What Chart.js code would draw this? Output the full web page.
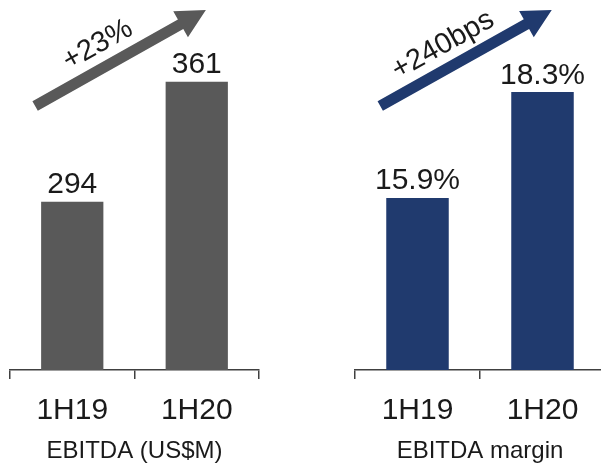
<!DOCTYPE html>
<html>
<head>
<meta charset="utf-8">
<script src="https://cdn.jsdelivr.net/npm/chart.js@4.4.1/dist/chart.umd.min.js"></script>
<style>
  html, body { margin: 0; padding: 0; background: #fff; width: 601px; height: 468px; overflow: hidden; position: relative; }
  .box { position: absolute; top: 0; height: 468px; }
</style>
</head>
<body>
<div class="box" style="left:0px;width:270px;"><canvas id="c1" width="270" height="468"></canvas></div>
<div class="box" style="left:300px;width:310px;"><canvas id="c2" width="310" height="468"></canvas></div>
<script>
// ---- data ----
const categories = ['1H19', '1H20'];
const ebitdaValues = [294, 361];          // US$M
const marginValues = [15.9, 18.3];        // %
const axisTitles = ['EBITDA (US$M)', 'EBITDA margin'];
const growthLabels = ['+23%', '+240bps'];
const ebitdaRange = [200, 400];
const marginRange = [12, 20];

const FONT = "'Liberation Sans', Arial, sans-serif";
const TEXT = '#1a1a1a';
const GRAY = '#595959';
const NAVY = '#203a6e';

const overlayPlugin = {
  id: 'overlay',
  afterDatasetsDraw(chart, args, opts) {
    const ctx = chart.ctx;
    const meta = chart.getDatasetMeta(0);
    const bars = meta.data;
    const vals = chart.data.datasets[0].data;
    // value labels
    ctx.save();
    ctx.fillStyle = TEXT;
    ctx.font = '30px ' + FONT;
    ctx.textAlign = 'center';
    ctx.textBaseline = 'alphabetic';
    bars.forEach((b, i) => {
      ctx.fillText(opts.fmt(vals[i]), b.x, b.y - 8.5);
    });
    ctx.restore();
    // growth arrow
    const b0 = bars[0], b1 = bars[1];
    const tx = b0.x - b0.width / 2 - 6, ty = 106;
    const hx = b1.x + b1.width / 2 - 22, hy = 10;
    const dx = hx - tx, dy = hy - ty;
    const len = Math.hypot(dx, dy);
    const ux = dx / len, uy = dy / len;
    const nx = -uy, ny = ux; // normal
    const sw = 5.5, hw = 15, hl = 29;
    const bx = hx - ux * hl, by = hy - uy * hl;
    ctx.save();
    ctx.fillStyle = opts.color;
    ctx.beginPath();
    ctx.moveTo(tx + nx * sw, ty + ny * sw);
    ctx.lineTo(bx + nx * sw, by + ny * sw);
    ctx.lineTo(bx + nx * hw, by + ny * hw);
    ctx.lineTo(hx, hy);
    ctx.lineTo(bx - nx * hw, by - ny * hw);
    ctx.lineTo(bx - nx * sw, by - ny * sw);
    ctx.lineTo(tx - nx * sw, ty - ny * sw);
    ctx.closePath();
    ctx.fill();
    // growth text
    const along = 84.5, off = 14.5;
    const px = tx + ux * along - nx * off;
    const py = ty + uy * along - ny * off;
    ctx.translate(px, py);
    ctx.rotate(Math.atan2(dy, dx));
    ctx.fillStyle = TEXT;
    ctx.font = '29px ' + FONT;
    ctx.textAlign = 'center';
    ctx.textBaseline = 'alphabetic';
    ctx.fillText(opts.text, 0, 0);
    ctx.restore();
  }
};

function makeChart(id, values, range, color, title, growth, fmt, padL, padR, padT) {
  return new Chart(document.getElementById(id), {
    type: 'bar',
    data: {
      labels: categories,
      datasets: [{ data: values, backgroundColor: color, borderWidth: 0,
                   barPercentage: 0.5, categoryPercentage: 1.0 }]
    },
    options: {
      responsive: false,
      animation: false,
      events: [],
      layout: { padding: { left: padL, right: padR, top: padT, bottom: 2 } },
      plugins: {
        legend: { display: false },
        tooltip: { enabled: false },
        overlay: { color: color, text: growth, fmt: fmt }
      },
      scales: {
        x: {
          offset: true,
          afterFit: s => { s.height = 96; },
          grid: { display: true, offset: true, drawOnChartArea: false, drawTicks: true,
                  tickLength: 9, color: '#404040', lineWidth: 1.5 },
          border: { display: true, color: '#404040', width: 1.5 },
          ticks: { color: TEXT, font: { family: FONT, size: 30 }, padding: 14 },
          title: { display: true, text: title, color: TEXT,
                   font: { family: FONT, size: 24 }, padding: { top: 8, bottom: 0 } }
        },
        y: { display: false, min: range[0], max: range[1] }
      }
    },
    plugins: [overlayPlugin]
  });
}

makeChart('c1', ebitdaValues, ebitdaRange, GRAY, axisTitles[0], growthLabels[0],
          v => String(v), 10, 11, 12);
makeChart('c2', marginValues, marginRange, NAVY, axisTitles[1], growthLabels[1],
          v => v.toFixed(1) + '%', 55, 5, 17);
</script>
</body>
</html>
